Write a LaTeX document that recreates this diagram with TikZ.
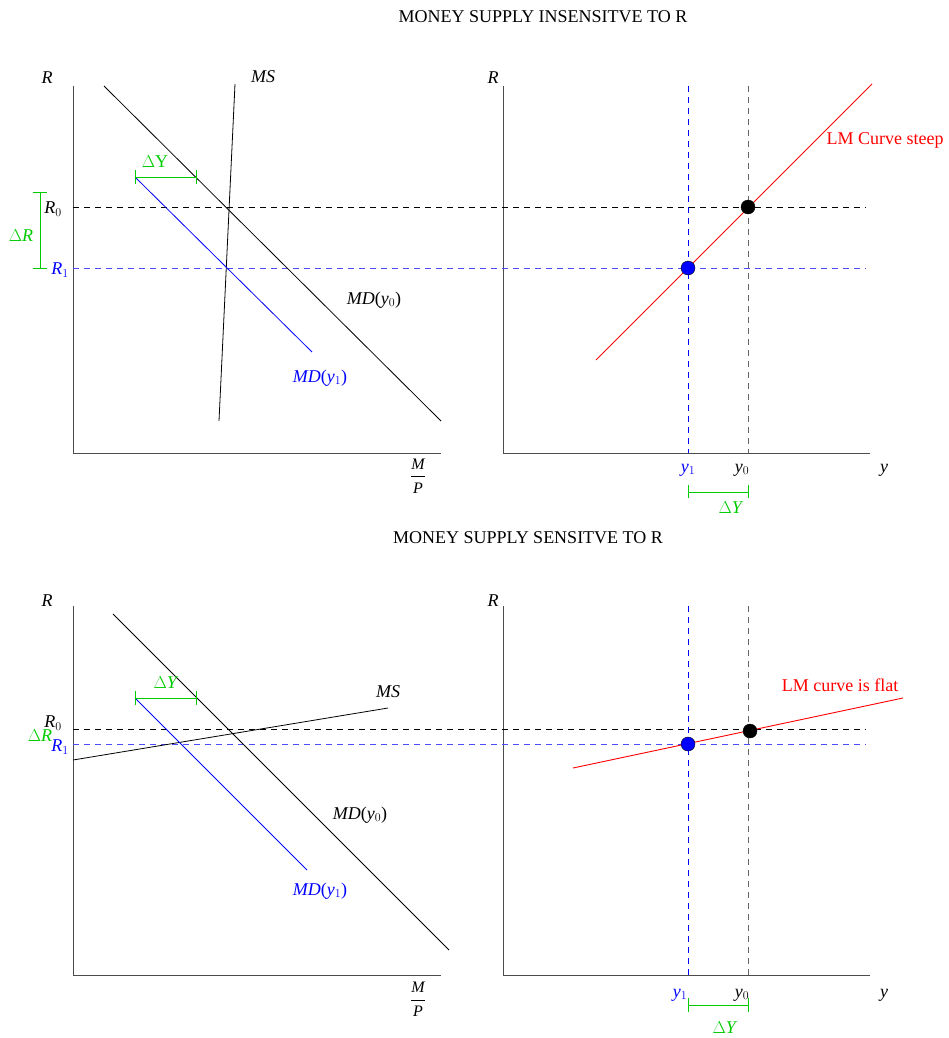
\documentclass[tikz,border=0pt]{standalone}
\usepackage{amsmath}
\usepackage{fontspec}
\setmainfont{Liberation Serif}
\newcommand\vi[1]{\textit{#1}}
\newcommand\mpfrac{{\fontsize{16}{16}\selectfont$\dfrac{\textit{M}}{\textit{P}}$}}
\tikzset{
  x=1pt,y=-1pt,
  axis/.style={draw=black!70,line width=1pt},
  curve/.style={draw=black,line width=0.8pt},
  bcurve/.style={draw=blue,line width=0.8pt},
  rcurve/.style={draw=red,line width=0.9pt},
  kdash/.style={draw=black,dashed,dash pattern=on 6pt off 5pt,line width=0.8pt},
  bdash/.style={draw=blue!70,dashed,dash pattern=on 6pt off 5pt,line width=0.9pt},
  gdash/.style={draw=black!60,dashed,dash pattern=on 6pt off 5pt,line width=0.9pt},
  bvdash/.style={draw=blue,dashed,dash pattern=on 6pt off 5pt,line width=0.8pt},
  gbr/.style={draw=green!80!black,line width=0.8pt},
  lbl/.style={font=\fontsize{18}{21}\selectfont,inner sep=0pt},
  glbl/.style={lbl,text=green!80!black},
  blbl/.style={lbl,text=blue},
  rlbl/.style={lbl,text=red},
  dotk/.style={circle,fill=black,draw=black,minimum size=14pt,inner sep=0pt},
  dotb/.style={circle,fill=blue,draw=black,minimum size=14pt,inner sep=0pt},
}
\begin{document}
\begin{tikzpicture}
\useasboundingbox (0,0) rectangle (948,1038);
% ================= TOP =================
\node[lbl] (t1) at (543,17) {MONEY SUPPLY INSENSITVE TO R};
% left axes
\coordinate (la1) at (73,86); \coordinate (lo1) at (73,453); \coordinate (lx1) at (441,453);
\draw[axis] (la1) -- (lo1) -- (lx1);
\node[lbl] (lR1) at (47,78) {\vi{R}};
\node[inner sep=0pt] (lMP1) at (418,476) {\mpfrac};
% right axes
\coordinate (ra1) at (503,86); \coordinate (ro1) at (503,453); \coordinate (rx1) at (870,453);
\draw[axis] (ra1) -- (ro1) -- (rx1);
\node[lbl] (rR1) at (493,78) {\vi{R}};
\node[lbl] (ry1) at (884,470) {\vi{y}};
% dashed R0, R1
\coordinate (r0a) at (73,207); \coordinate (r0b) at (866,207);
\coordinate (r1a) at (73,268); \coordinate (r1b) at (866,268);
\draw[kdash] (r0a) -- (r0b);
\draw[bdash] (r1a) -- (r1b);
% vertical dashed
\coordinate (v1a) at (688,86); \coordinate (v1b) at (688,453);
\coordinate (v0a) at (748,86); \coordinate (v0b) at (748,453);
\draw[bvdash] (v1a) -- (v1b);
\draw[gdash] (v0a) -- (v0b);
% curves
\coordinate (ms1a) at (235,84); \coordinate (ms1b) at (219,421);
\draw[curve] (ms1a) -- (ms1b);
\node[lbl] (ms1) at (263,77) {\vi{MS}};
\coordinate (md0a) at (104,86); \coordinate (md0b) at (441,421);
\draw[curve] (md0a) -- (md0b);
\node[lbl] (md0l) at (374,300) {\vi{MD}(\vi{y}$_0$)};
\coordinate (md1a) at (135,177); \coordinate (md1b) at (312,352);
\draw[bcurve] (md1a) -- (md1b);
\node[blbl] (md1l) at (320,378) {\vi{MD}(\vi{y}$_1$)};
% LM
\coordinate (lma) at (596,360); \coordinate (lmb) at (872,84);
\draw[rcurve] (lma) -- (lmb);
\node[rlbl] (lml) at (885,140) {LM Curve steep};
\node[dotk] (e0) at (748,207) {};
\node[dotb] (e1) at (688,268) {};
% labels
\node[lbl] (R0l) at (53,209) {\vi{R}$_0$};
\node[blbl] (R1l) at (60,270) {\vi{R}$_1$};
\node[lbl] (y0l) at (742,470) {\vi{y}$_0$};
\node[blbl] (y1l) at (688,470) {\vi{y}$_1$};
% brackets
\coordinate (dya) at (135,177); \coordinate (dyb) at (196,177);
\draw[gbr] (dya) -- (dyb) (135,170) -- (135,184) (196,170) -- (196,184);
\node[glbl] (dyl) at (155,162) {$\Delta$Y};
\coordinate (dra) at (40,192); \coordinate (drb) at (40,268);
\draw[gbr] (dra) -- (drb) (33,192) -- (47,192) (33,268) -- (47,268);
\node[glbl] (drl) at (21,236) {$\Delta$\vi{R}};
\coordinate (dxa) at (688,492); \coordinate (dxb) at (748,492);
\draw[gbr] (dxa) -- (dxb) (688,485) -- (688,498) (748,485) -- (748,498);
\node[glbl] (dxl) at (731,508) {$\Delta$\vi{Y}};
% ================= BOTTOM =================
\node[lbl] (t2) at (528,538) {MONEY SUPPLY SENSITVE TO R};
\coordinate (la2) at (73,606); \coordinate (lo2) at (73,975); \coordinate (lx2) at (441,975);
\draw[axis] (la2) -- (lo2) -- (lx2);
\node[lbl] (lR2) at (47,601) {\vi{R}};
\node[inner sep=0pt] (lMP2) at (418,999) {\mpfrac};
\coordinate (ra2) at (503,606); \coordinate (ro2) at (503,975); \coordinate (rx2) at (870,975);
\draw[axis] (ra2) -- (ro2) -- (rx2);
\node[lbl] (rR2) at (493,601) {\vi{R}};
\node[lbl] (ry2) at (884,995) {\vi{y}};
\coordinate (s0a) at (73,729); \coordinate (s0b) at (866,729);
\coordinate (s1a) at (73,744); \coordinate (s1b) at (866,744);
\draw[kdash] (s0a) -- (s0b);
\draw[bdash] (s1a) -- (s1b);
\coordinate (w1a) at (688,606); \coordinate (w1b) at (688,975);
\coordinate (w0a) at (748,606); \coordinate (w0b) at (748,975);
\draw[bvdash] (w1a) -- (w1b);
\draw[gdash] (w0a) -- (w0b);
\coordinate (ms2a) at (73,760); \coordinate (ms2b) at (388,708);
\draw[curve] (ms2a) -- (ms2b);
\node[lbl] (ms2) at (388,692) {\vi{MS}};
\coordinate (nd0a) at (113,614); \coordinate (nd0b) at (449,950);
\draw[curve] (nd0a) -- (nd0b);
\node[lbl] (nd0l) at (360,815) {\vi{MD}(\vi{y}$_0$)};
\coordinate (nd1a) at (135,698); \coordinate (nd1b) at (307,870);
\draw[bcurve] (nd1a) -- (nd1b);
\node[blbl] (nd1l) at (320,891) {\vi{MD}(\vi{y}$_1$)};
\coordinate (lm2a) at (573,768); \coordinate (lm2b) at (903,698);
\draw[rcurve] (lm2a) -- (lm2b);
\node[rlbl] (lml2) at (840,685) {LM curve is flat};
\node[dotk] (f0) at (750,731) {};
\node[dotb] (f1) at (688,744) {};
\node[lbl] (S0l) at (53,723) {\vi{R}$_0$};
\node[glbl] (dr2l) at (40,736) {$\Delta$\vi{R}};
\node[blbl] (S1l) at (60,747) {\vi{R}$_1$};
\node[lbl] (z0l) at (742,995) {\vi{y}$_0$};
\node[blbl] (z1l) at (680,995) {\vi{y}$_1$};
\coordinate (ey1a) at (135,698); \coordinate (ey1b) at (196,698);
\draw[gbr] (ey1a) -- (ey1b) (135,691) -- (135,705) (196,691) -- (196,705);
\node[glbl] (eyl) at (166,683) {$\Delta$\vi{Y}};
\coordinate (ex2a) at (688,1005); \coordinate (ex2b) at (748,1005);
\draw[gbr] (ex2a) -- (ex2b) (688,998) -- (688,1012) (748,998) -- (748,1012);
\node[glbl] (ex2l) at (725,1028) {$\Delta$\vi{Y}};
\end{tikzpicture}
\end{document}
